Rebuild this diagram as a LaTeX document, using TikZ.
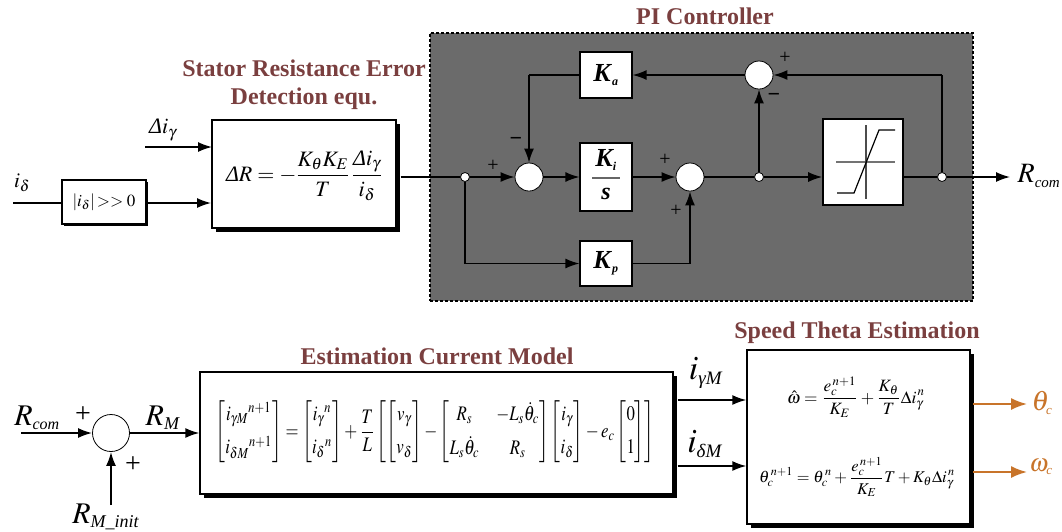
\documentclass[tikz,border=0pt]{standalone}
\usepackage{amsmath}
\usepackage{mathptmx}
\usepackage[no-math]{fontspec}
\usepackage{graphicx}
\setmainfont{Liberation Serif}
\usetikzlibrary{arrows.meta,shadows,calc}
\definecolor{titlecol}{HTML}{7A3F3F}
\definecolor{panelcol}{HTML}{6B6B6B}
\definecolor{outcol}{HTML}{C8742A}
\newcommand{\dlt}{\text{\textit{Δ}}}
\newcommand{\fs}[1]{\fontsize{#1}{#1}\selectfont}
\newcommand{\bik}[1]{\textbf{\textit{#1}}}
\newcommand{\sbt}[2]{\text{\fs{#1}\textit{#2}}}
\tikzset{
  titletext/.style={text=titlecol,font=\fs{24}\bfseries,align=center,inner sep=0pt},
  lab/.style={inner sep=0pt,text=black},
  sign/.style={inner sep=0pt,font=\fs{20},text=black},
  flow/.style={draw=black,line width=1.5pt,-{Latex[length=14pt,width=10pt]}},
  plain/.style={draw=black,line width=1.5pt},
  outflow/.style={draw=outcol,line width=1.8pt,-{Latex[length=16pt,width=12pt]}},
  sumnode/.style={circle,draw=black,fill=white,line width=0.8pt,minimum size=28pt,inner sep=0pt},
  dotnode/.style={circle,draw=black,fill=white,line width=0.8pt,minimum size=9pt,inner sep=0pt},
  gainbox/.style={rectangle,draw=black,fill=white,line width=1.2pt,minimum width=52pt,inner sep=0pt},
  shadowbox/.style={rectangle,draw=black,fill=white,line width=1.4pt,inner sep=0pt,
    general shadow={fill=black,shadow xshift=4pt,shadow yshift=-4pt}},
}
\begin{document}
\begin{tikzpicture}[x=1pt,y=-1pt]
\useasboundingbox (0,0) rectangle (1062,531);
% PI panel
\node[rectangle,draw=black,fill=panelcol,line width=1.6pt,dash pattern=on 3pt off 2pt,minimum width=543pt,minimum height=268pt,inner sep=0pt] (panel) at (701.5,167) {};
\node[titletext] (pititle) at (705,16) {PI Controller};
\node[titletext] (srtitle) at (304,85) {Stator Resistance Error\\[4pt]Detection equ.};
\node[titletext] (ectitle) at (437,356) {Estimation Current Model};
\node[titletext] (sttitle) at (857,333) {Speed Theta Estimation};

% Resistance error
\node[shadowbox,minimum width=184pt,minimum height=108pt] (dr) at (304,174) {};
\node[lab] (dreq) at (304,176)
  {\fs{22}$\dlt R=-\dfrac{K_\theta K_E}{T}\,\dfrac{\dlt i_\gamma}{i_\delta}$};
\node[rectangle,draw=black,fill=white,line width=1.2pt,inner sep=0pt,minimum width=84pt,minimum height=44pt,
   general shadow={fill=black,shadow xshift=1.5pt,shadow yshift=-1.5pt}] (filt) at (104,202)
  {\fs{17}$\left|i_\delta\right|\!>>0$};
\coordinate (idin) at (13,203);
\coordinate (digin) at (145,147);
\coordinate (digto) at (212,147);
\coordinate (filtto) at (211,203);
\node[lab,font=\fs{21}] (idlab) at (22,183) {$i_\delta$};
\node[lab,font=\fs{22}] (diglab) at (163,130) {$\dlt i_\gamma$};
\draw[plain] (idin) -- (filt.west |- idin);
\draw[flow] (filt.east |- idin) -- (filtto);
\draw[flow] (digin) -- (digto);

% Controller nodes
\node[dotnode] (d1) at (465,177) {};
\node[sumnode] (s1) at (529,177) {};
\node[gainbox,minimum height=68pt] (ki) at (606,177) {};
\node[lab,font=\fs{26}\bfseries\itshape] (kinum) at (606,160) {$\text{\bik{K}}_{\text{\fs{12}\bik{i}}}$};
\node[lab,font=\fs{24}\bfseries\itshape] (kiden) at (606,194) {s};
\path[draw=black!60,line width=1.6pt] (592,178) -- (620,178);
\node[sumnode] (s2) at (690,177) {};
\node[dotnode] (d2) at (759,177) {};
\node[sumnode] (s3) at (759,75) {};
\node[gainbox,minimum height=46pt] (ka) at (606,75) {\fs{26}$\text{\bik{K}}_{\text{\fs{12}\bik{a}}}$};
\node[gainbox,minimum height=45pt] (kp) at (606,263.5) {\fs{26}$\text{\bik{K}}_{\text{\fs{12}\bik{p}}}$};
\node[rectangle,draw=black,fill=white,line width=1.6pt,minimum width=80pt,minimum height=86pt,inner sep=0pt] (sat) at (863,162) {};
\node[dotnode] (d3) at (942,177) {};
\coordinate (rout) at (1010,177);
\coordinate (ka0) at (s1 |- ka);
\coordinate (fb) at (d3 |- s3);
\coordinate (kp0) at (d1 |- kp);
\coordinate (kp1) at (s2 |- kp);
% saturation curve
\draw[draw=black!55,line width=1.6pt] (836,162) -- (895,162);
\draw[draw=black!70,line width=1.2pt] (866,125) -- (866,199);
\draw[draw=black,line width=1.2pt] (837,193) -- (854,193) -- (879,130) -- (895,130);

\draw[plain] ($(dr.east)+(4,3)$) -- (d1);
\draw[flow] (d1) -- (s1);
\draw[flow] (s1) -- (ki);
\draw[flow] (ki) -- (s2);
\draw[plain] (s2) -- (d2);
\draw[flow] (d2) -- (sat.west |- d2);
\draw[plain] (sat.east |- d3) -- (d3);
\draw[flow] (d3) -- (rout);
\draw[flow] (d2) -- (s3);
\draw[flow] (s3) -- (ka);
\draw[plain] (d3) -- (fb);
\draw[flow] (fb) -- (s3);
\draw[plain] (ka) -- (ka0);
\draw[flow] (ka0) -- (s1);
\draw[plain] (d1) -- (kp0);
\draw[flow] (kp0) -- (kp);
\draw[plain] (kp) -- (kp1);
\draw[flow] (kp1) -- (s2);
\node[sign] (p1) at (493,166) {+};
\node[sign,font=\fs{22}] (m1) at (516,141) {\textbf{\textminus}};
\node[sign] (p2) at (665,160) {+};
\node[sign] (p3) at (676,211) {+};
\node[sign] (p4) at (785,58) {+};
\node[sign,font=\fs{22}] (m2) at (774,97) {\textbf{\textminus}};
\node[lab,font=\fs{28}] (rcom) at (1039,176) {$R_{\sbt{15}{com}}$};

% Bottom row
\node[circle,draw=black,fill=white,line width=0.8pt,minimum size=37pt,inner sep=0pt] (s4) at (111,433) {};
\coordinate (rcin) at (21,433);
\coordinate (rmi) at (111,505);
\node[lab,font=\fs{30}] (rcomb) at (37,418) {$R_{\sbt{16}{com}}$};
\node[lab,font=\fs{30}] (rmlab) at (163,418) {$R_{\sbt{18}{M}}$};
\node[lab,font=\fs{30}] (rmilab) at (106,517) {$R_{\sbt{18}{M\_init}}$};
\node[sign,font=\fs{28}] (p5) at (83,415) {+};
\node[sign,font=\fs{28}] (p6) at (133,465) {+};
\node[shadowbox,minimum width=473pt,minimum height=122pt] (ec) at (436.5,433) {};
\node[lab] (eceq) at (435,432) {\resizebox*{439pt}{62pt}{$\displaystyle
 \begin{bmatrix} i_{\gamma M}{}^{n+1}\\[4pt] i_{\delta M}{}^{n+1}\end{bmatrix}
 =\begin{bmatrix} i_\gamma{}^{n}\\[4pt] i_\delta{}^{n}\end{bmatrix}
 +\frac{T}{L}\left[\begin{bmatrix}v_\gamma\\[4pt] v_\delta\end{bmatrix}
 -\begin{bmatrix}R_s & -L_s\dot\theta_c\\[4pt] L_s\dot\theta_c & R_s\end{bmatrix}
 \begin{bmatrix}i_\gamma\\[4pt] i_\delta\end{bmatrix}
 -e_c\begin{bmatrix}0\\[4pt] 1\end{bmatrix}\right]$}};
\node[shadowbox,minimum width=223pt,minimum height=174pt] (st) at (858.5,437) {};
\node[lab] (steq1) at (856,397) {\resizebox{138pt}{!}{$\displaystyle\hat\omega=\frac{e_c^{\,n+1}}{K_E}+\frac{K_\theta}{T}\Delta i_\gamma^{\,n}$}};
\node[lab] (steq2) at (857,477) {\resizebox{196pt}{!}{$\displaystyle\theta_c^{\,n+1}=\theta_c^{\,n}+\frac{e_c^{\,n+1}}{K_E}T+K_\theta\Delta i_\gamma^{\,n}$}};
\draw[flow,line width=1.8pt] (rcin) -- (s4);
\draw[flow,line width=1.8pt] (rmi) -- (s4);
\draw[flow] (s4) -- (ec);
\coordinate (g0) at ($(ec.east |- st.center)+(4,-37)$);
\coordinate (d0) at ($(ec.east |- st.center)+(4,29)$);
\draw[flow] (g0) -- (st.west |- g0);
\draw[flow] (d0) -- (st.west |- d0);
\node[lab,font=\fs{34}] (iglab) at (706,373) {$i_{\sbt{19}{γM}}$};
\node[lab,font=\fs{34}] (idmlab) at (705,444) {$i_{\sbt{19}{δM}}$};
\coordinate (th0) at (973,404);
\coordinate (th1) at (1027,404);
\coordinate (om0) at (973,472);
\coordinate (om1) at (1027,472);
\draw[outflow] (th0) -- (th1);
\draw[outflow] (om0) -- (om1);
\node[lab,text=outcol,font=\fs{28}] (thlab) at (1042,403) {$\theta_{\sbt{13}{c}}$};
\node[lab,text=outcol,font=\fs{25}] (omlab) at (1041,467) {$\omega_{\sbt{13}{c}}$};
\end{tikzpicture}
\end{document}
